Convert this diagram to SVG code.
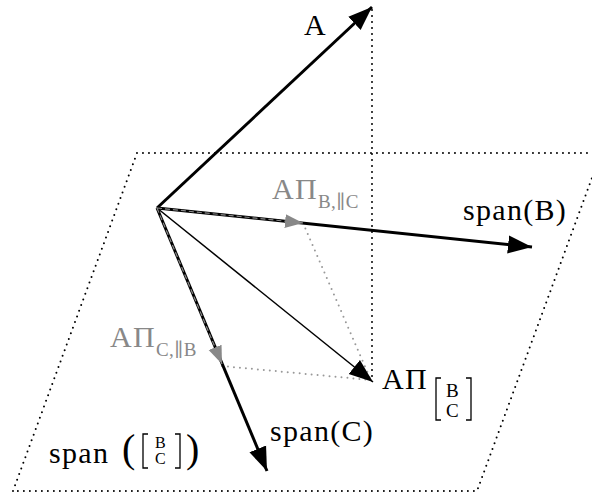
<svg xmlns="http://www.w3.org/2000/svg" width="592" height="495" viewBox="0 0 592 495">
<style>
text{font-family:"Liberation Serif","DejaVu Serif",serif;fill:#000;letter-spacing:1.3px}
.m{font-size:30px}
.s{font-size:19px;letter-spacing:0.5px}
.g{fill:#888}
.dot{fill:none;stroke:#000;stroke-width:2;stroke-dasharray:0 6;stroke-linecap:round}
.gdot{fill:none;stroke:#999;stroke-width:2;stroke-dasharray:0 6;stroke-linecap:round}
.thick{stroke:#000;stroke-width:3;fill:none}
.thin{stroke:#000;stroke-width:1.5;fill:none}
.gray{stroke:#888;stroke-width:1.2;fill:none;stroke-dasharray:5 3}
.br{fill:none;stroke:#000;stroke-width:1.3}
</style>
<defs>
<marker id="ah" markerUnits="userSpaceOnUse" markerWidth="26" markerHeight="20" refX="24" refY="10" orient="auto"><path d="M0,1 L24,10 L0,19 Z" fill="#000"/></marker>
<marker id="ahg" markerUnits="userSpaceOnUse" markerWidth="20" markerHeight="16" refX="18" refY="8" orient="auto"><path d="M0,1 L18,8 L0,15 Z" fill="#888"/></marker>
</defs>
<g id="plane"><path class="dot" d="M13,491 L137,153 L592,153 M600,156 L477,491 L13,491"/></g>
<g id="connectors">
<line class="dot" x1="372" y1="10" x2="372" y2="378"/>
<line class="gdot" x1="303" y1="223" x2="370" y2="378"/>
<line class="gdot" x1="222" y1="366" x2="370" y2="380"/>
<line class="thick" x1="157" y1="208" x2="372" y2="7" marker-end="url(#ah)"/>
<line class="thick" x1="157" y1="208" x2="532" y2="247" marker-end="url(#ah)"/>
<line class="thick" x1="157" y1="208" x2="267" y2="471" marker-end="url(#ah)"/>
<line class="thin" x1="157" y1="208" x2="373" y2="382" marker-end="url(#ah)"/>
<line class="gray" x1="157" y1="208" x2="303" y2="223" marker-end="url(#ahg)"/>
<line class="gray" x1="157" y1="208" x2="222" y2="364" marker-end="url(#ahg)"/>
</g>
<g id="labelA"><text class="m" x="304" y="35">A</text></g>
<g id="labelSpanB"><text class="m" x="463" y="220">span(B)</text></g>
<g id="labelSpanC"><text class="m" x="270" y="441">span(C)</text></g>
<g id="labelAPiB"><text class="m g" x="272" y="199">AΠ<tspan class="s" dy="9">B,∥C</tspan></text></g>
<g id="labelAPiC"><text class="m g" x="110" y="347">AΠ<tspan class="s" dy="9">C,∥B</tspan></text></g>
<g id="labelAPi">
<text class="m" x="382" y="389">AΠ</text>
<path class="br" d="M441,378 h-5 v42 h5 M466,378 h5 v42 h-5"/>
<text x="446" y="397" font-size="19" style="letter-spacing:0">B</text>
<text x="446" y="417" font-size="19" style="letter-spacing:0">C</text>
</g>
<g id="labelSpan">
<text class="m" x="49" y="463">span</text>
<text x="122" y="462" font-size="40" style="letter-spacing:0">(</text>
<path class="br" d="M148,434 h-5 v34 h5 M175,434 h5 v34 h-5"/>
<text x="155" y="448" font-size="16" style="letter-spacing:0">B</text>
<text x="155" y="464" font-size="16" style="letter-spacing:0">C</text>
<text x="186" y="462" font-size="40" style="letter-spacing:0">)</text>
</g>
</svg>
